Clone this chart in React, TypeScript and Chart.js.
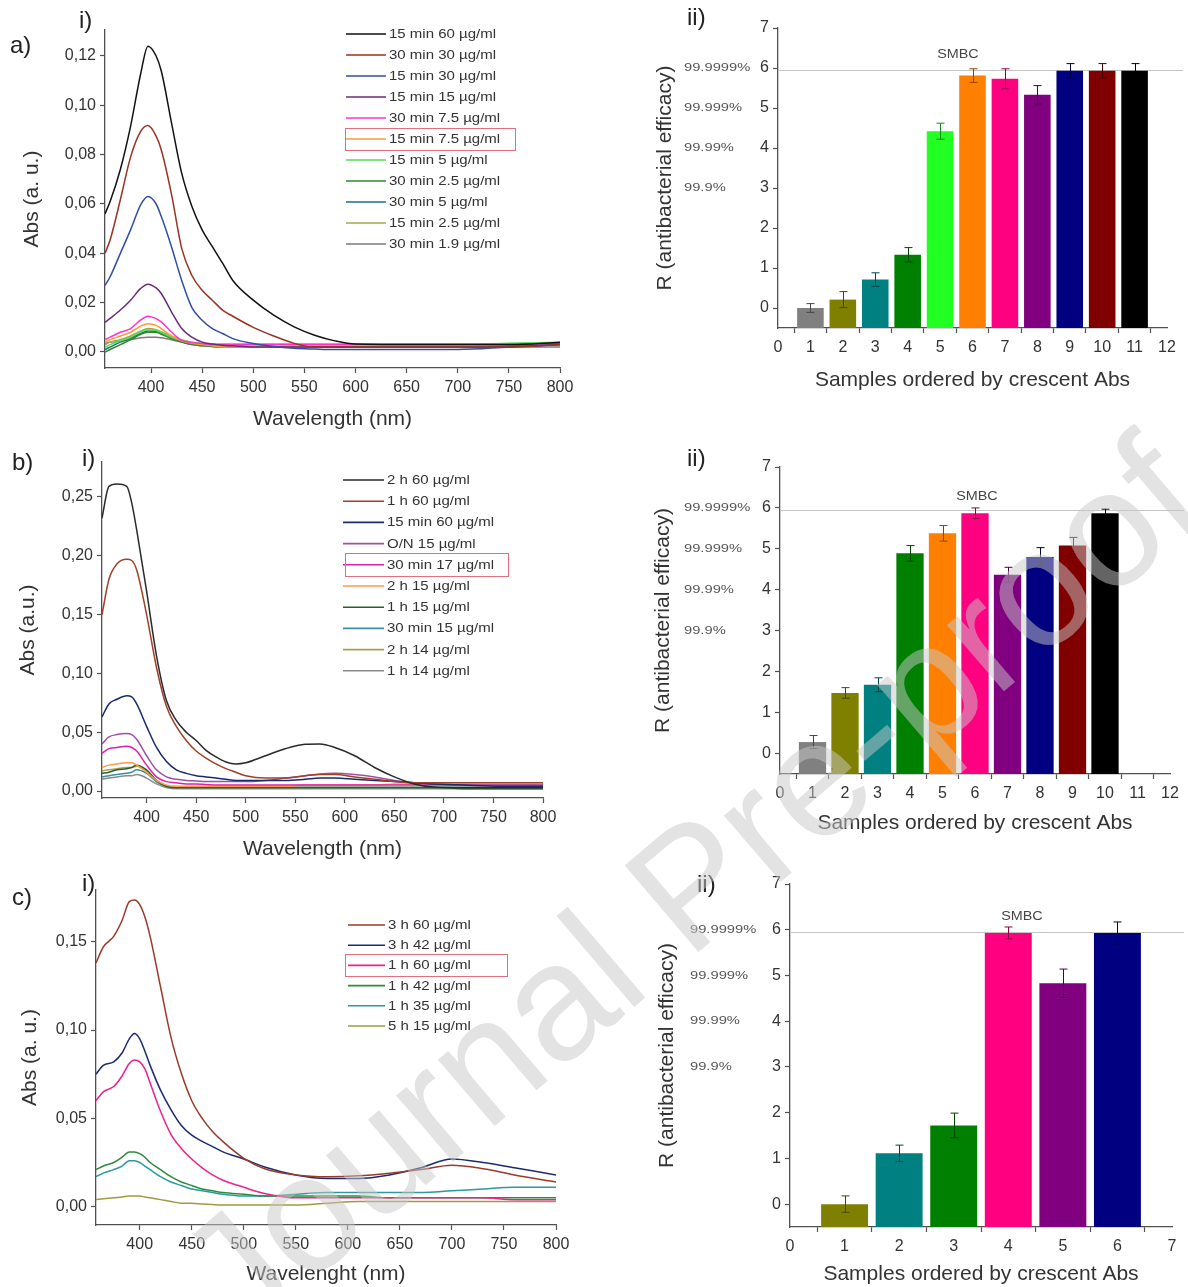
import React, { useEffect, useRef } from "react";
import { Chart, registerables } from "chart.js";

Chart.register(...registerables);

const FONT = '"Liberation Sans", Arial, Helvetica, sans-serif';
const INK = "#333333";
const AXIS = "#505050";
Chart.defaults.font.family = FONT;

/* ======================= a) i) spectra ======================= */
const WL_A = [355, 360, 370, 380, 390, 397, 405, 410, 420, 430, 440, 450, 460, 470, 480, 500, 520, 540, 560, 580, 600, 650, 700, 750, 800];
const A_LABELS = ["15 min 60 µg/ml", "30 min 30 µg/ml", "15 min 30 µg/ml", "15 min 15 µg/ml", "30 min 7.5 µg/ml", "15 min 7.5 µg/ml", "15 min 5 µg/ml", "30 min 2.5 µg/ml", "30 min 5 µg/ml", "15 min 2.5 µg/ml", "30 min 1.9 µg/ml"];
const A_COLORS = ["#111111", "#993322", "#2f4fa6", "#6a2c7a", "#ff33cc", "#ff9933", "#55dd55", "#2e8b2e", "#1e6e80", "#a6a64a", "#857575"];
const A_15MIN_60 = [0.056, 0.061, 0.074, 0.0915, 0.113, 0.124, 0.12, 0.114, 0.093, 0.0725, 0.059, 0.0495, 0.0427, 0.036, 0.029, 0.021, 0.0149, 0.0102, 0.0068, 0.0045, 0.0032, 0.003, 0.003, 0.003, 0.004];
const A_30MIN_30 = [0.04, 0.0454, 0.0617, 0.079, 0.0895, 0.0918, 0.0875, 0.082, 0.064, 0.042, 0.031, 0.025, 0.021, 0.017, 0.0145, 0.01, 0.0065, 0.0035, 0.002, 0.002, 0.002, 0.002, 0.002, 0.002, 0.003];
const A_15MIN_30 = [0.027, 0.0305, 0.04, 0.0495, 0.0597, 0.063, 0.06, 0.055, 0.0427, 0.029, 0.018, 0.0129, 0.0095, 0.0075, 0.0054, 0.0034, 0.0022, 0.0015, 0.0012, 0.001, 0.001, 0.001, 0.001, 0.002, 0.003];
const A_15MIN_15 = [0.012, 0.0136, 0.017, 0.021, 0.0258, 0.0275, 0.026, 0.0237, 0.0163, 0.0095, 0.006, 0.004, 0.0032, 0.0027, 0.0025, 0.002, 0.002, 0.002, 0.002, 0.002, 0.002, 0.002, 0.002, 0.002, 0.003];
const A_30MIN_7_5 = [0.005, 0.006, 0.008, 0.0095, 0.013, 0.0145, 0.0135, 0.0122, 0.0081, 0.0047, 0.0038, 0.0034, 0.003, 0.003, 0.003, 0.003, 0.003, 0.003, 0.003, 0.003, 0.003, 0.003, 0.003, 0.003, 0.003];
const A_15MIN_7_5 = [0.004, 0.005, 0.0065, 0.008, 0.0105, 0.0115, 0.0108, 0.0095, 0.0065, 0.0045, 0.0035, 0.003, 0.0025, 0.002, 0.002, 0.002, 0.002, 0.002, 0.002, 0.002, 0.002, 0.002, 0.002, 0.002, 0.003];
const A_15MIN_5 = [0.002, 0.003, 0.0045, 0.006, 0.0082, 0.009, 0.0088, 0.008, 0.006, 0.0048, 0.004, 0.0035, 0.003, 0.003, 0.003, 0.003, 0.003, 0.003, 0.003, 0.003, 0.003, 0.003, 0.003, 0.0035, 0.004];
const A_30MIN_2_5 = [0.0, 0.001, 0.003, 0.005, 0.0072, 0.008, 0.008, 0.0072, 0.0055, 0.004, 0.003, 0.0025, 0.0022, 0.002, 0.002, 0.002, 0.002, 0.002, 0.002, 0.002, 0.002, 0.002, 0.002, 0.0025, 0.003];
const A_30MIN_5 = [0.001, 0.002, 0.004, 0.0055, 0.0075, 0.0085, 0.0082, 0.0075, 0.0058, 0.0045, 0.0035, 0.003, 0.003, 0.003, 0.003, 0.003, 0.003, 0.003, 0.003, 0.003, 0.003, 0.003, 0.003, 0.0033, 0.0035];
const A_15MIN_2_5 = [0.003, 0.004, 0.005, 0.0065, 0.0085, 0.0095, 0.009, 0.0082, 0.0065, 0.005, 0.004, 0.0032, 0.003, 0.003, 0.003, 0.003, 0.003, 0.003, 0.003, 0.003, 0.003, 0.003, 0.003, 0.003, 0.003];
const A_30MIN_1_9 = [0.0035, 0.004, 0.0045, 0.005, 0.0058, 0.006, 0.006, 0.0058, 0.005, 0.004, 0.003, 0.0025, 0.0022, 0.002, 0.002, 0.002, 0.002, 0.002, 0.002, 0.002, 0.002, 0.002, 0.002, 0.002, 0.002];
const A_SERIES = [A_15MIN_60, A_30MIN_30, A_15MIN_30, A_15MIN_15, A_30MIN_7_5, A_15MIN_7_5, A_15MIN_5, A_30MIN_2_5, A_30MIN_5, A_15MIN_2_5, A_30MIN_1_9];
const A_Y_TICKS = [0, 0.02, 0.04, 0.06, 0.08, 0.1, 0.12];
const WL_TICKS = [400, 450, 500, 550, 600, 650, 700, 750, 800];

/* ======================= b) i) spectra ======================= */
const WL_B = [355, 362, 370, 380, 385, 390, 400, 410, 420, 430, 440, 450, 460, 470, 480, 490, 500, 520, 540, 560, 575, 590, 610, 630, 650, 670, 690, 720, 760, 800];
const B_LABELS = ["2 h 60 µg/ml", "1 h 60 µg/ml", "15 min 60 µg/ml", "O/N 15 µg/ml", "30 min 17 µg/ml", "2 h 15 µg/ml", "1 h 15 µg/ml", "30 min 15 µg/ml", "2 h 14 µg/ml", "1 h 14 µg/ml"];
const B_COLORS = ["#2a2a2a", "#a0402a", "#1a2a6a", "#a050a0", "#dd22aa", "#ff9944", "#2d5e2d", "#3a8fa0", "#a8a050", "#8a8a8a"];
const B_2H_60 = [0.232, 0.259, 0.261, 0.259, 0.245, 0.222, 0.17, 0.115, 0.077, 0.06, 0.05, 0.043, 0.0346, 0.029, 0.0247, 0.023, 0.024, 0.03, 0.036, 0.0397, 0.04, 0.037, 0.03, 0.02, 0.012, 0.006, 0.0034, 0.003, 0.003, 0.003];
const B_1H_60 = [0.15, 0.18, 0.193, 0.197, 0.196, 0.188, 0.15, 0.105, 0.072, 0.055, 0.043, 0.034, 0.028, 0.023, 0.019, 0.016, 0.013, 0.011, 0.011, 0.013, 0.014, 0.014, 0.012, 0.01, 0.008, 0.007, 0.007, 0.007, 0.007, 0.007];
const B_15MIN_60 = [0.063, 0.074, 0.078, 0.081, 0.08, 0.074, 0.055, 0.037, 0.025, 0.018, 0.015, 0.013, 0.012, 0.011, 0.01, 0.009, 0.009, 0.009, 0.009, 0.01, 0.011, 0.011, 0.01, 0.009, 0.008, 0.007, 0.006, 0.005, 0.004, 0.004];
const B_ON_15 = [0.04, 0.046, 0.048, 0.049, 0.048, 0.044, 0.03, 0.018, 0.012, 0.01, 0.009, 0.0085, 0.008, 0.008, 0.008, 0.008, 0.008, 0.009, 0.011, 0.013, 0.0145, 0.015, 0.014, 0.012, 0.009, 0.007, 0.006, 0.005, 0.005, 0.005];
const B_30MIN_17 = [0.032, 0.036, 0.037, 0.038, 0.037, 0.034, 0.022, 0.012, 0.008, 0.007, 0.006, 0.006, 0.0055, 0.005, 0.005, 0.005, 0.005, 0.005, 0.005, 0.005, 0.005, 0.005, 0.005, 0.005, 0.005, 0.005, 0.005, 0.005, 0.005, 0.005];
const B_2H_15 = [0.02, 0.022, 0.023, 0.024, 0.024, 0.022, 0.016, 0.009, 0.005, 0.004, 0.004, 0.004, 0.004, 0.004, 0.004, 0.004, 0.004, 0.004, 0.004, 0.005, 0.005, 0.005, 0.005, 0.005, 0.006, 0.006, 0.007, 0.007, 0.007, 0.007];
const B_1H_15 = [0.015, 0.016, 0.018, 0.019, 0.02, 0.022, 0.018, 0.009, 0.004, 0.003, 0.003, 0.003, 0.003, 0.003, 0.003, 0.003, 0.003, 0.003, 0.003, 0.003, 0.003, 0.003, 0.003, 0.003, 0.003, 0.003, 0.003, 0.002, 0.002, 0.002];
const B_30MIN_15 = [0.012, 0.013, 0.014, 0.015, 0.016, 0.018, 0.015, 0.008, 0.004, 0.003, 0.003, 0.003, 0.003, 0.003, 0.003, 0.003, 0.003, 0.003, 0.003, 0.003, 0.003, 0.003, 0.003, 0.003, 0.003, 0.003, 0.003, 0.003, 0.003, 0.003];
const B_2H_14 = [0.017, 0.018, 0.019, 0.02, 0.02, 0.021, 0.017, 0.008, 0.004, 0.003, 0.003, 0.003, 0.003, 0.003, 0.003, 0.003, 0.003, 0.003, 0.003, 0.003, 0.003, 0.003, 0.003, 0.003, 0.003, 0.003, 0.003, 0.003, 0.003, 0.003];
const B_1H_14 = [0.01, 0.011, 0.012, 0.013, 0.013, 0.014, 0.011, 0.006, 0.003, 0.002, 0.002, 0.002, 0.002, 0.002, 0.002, 0.002, 0.002, 0.002, 0.002, 0.002, 0.002, 0.002, 0.002, 0.002, 0.002, 0.002, 0.002, 0.002, 0.002, 0.002];
const B_SERIES = [B_2H_60, B_1H_60, B_15MIN_60, B_ON_15, B_30MIN_17, B_2H_15, B_1H_15, B_30MIN_15, B_2H_14, B_1H_14];
const B_Y_TICKS = [0, 0.05, 0.1, 0.15, 0.2, 0.25];

/* ======================= c) i) spectra ======================= */
const WL_C = [358, 365, 375, 383, 390, 395, 400, 405, 410, 420, 430, 440, 450, 460, 470, 480, 500, 520, 550, 580, 610, 640, 670, 700, 730, 760, 800];
const C_LABELS = ["3 h 60 µg/ml", "3 h 42 µg/ml", "1 h 60 µg/ml", "1 h 42 µg/ml", "1 h 35 µg/ml", "5 h 15 µg/ml"];
const C_COLORS = ["#9a3a2a", "#1e2a70", "#ee2288", "#2e8b3e", "#2a9a9a", "#a09a40"];
const C_3H_60 = [0.138, 0.147, 0.153, 0.162, 0.1727, 0.1736, 0.171, 0.164, 0.153, 0.1245, 0.096, 0.0755, 0.06, 0.05, 0.0425, 0.0368, 0.0274, 0.0215, 0.018, 0.017, 0.0175, 0.019, 0.021, 0.0235, 0.0215, 0.018, 0.014];
const C_3H_42 = [0.075, 0.08, 0.082, 0.087, 0.095, 0.098, 0.095, 0.088, 0.08, 0.066, 0.055, 0.046, 0.0405, 0.037, 0.034, 0.031, 0.027, 0.0225, 0.018, 0.016, 0.016, 0.018, 0.022, 0.027, 0.025, 0.022, 0.018];
const C_1H_60 = [0.06, 0.065, 0.068, 0.074, 0.081, 0.083, 0.082, 0.078, 0.07, 0.054, 0.041, 0.033, 0.027, 0.022, 0.018, 0.015, 0.011, 0.0075, 0.005, 0.005, 0.005, 0.005, 0.005, 0.005, 0.005, 0.004, 0.004];
const C_1H_42 = [0.021, 0.023, 0.025, 0.028, 0.031, 0.031, 0.03, 0.028, 0.025, 0.021, 0.017, 0.014, 0.012, 0.01, 0.009, 0.008, 0.007, 0.006, 0.006, 0.006, 0.006, 0.005, 0.005, 0.005, 0.005, 0.005, 0.005];
const C_1H_35 = [0.017, 0.019, 0.021, 0.023, 0.026, 0.026, 0.025, 0.023, 0.021, 0.017, 0.014, 0.012, 0.01, 0.009, 0.008, 0.007, 0.006, 0.006, 0.007, 0.008, 0.008, 0.008, 0.008, 0.009, 0.01, 0.011, 0.011];
const C_5H_15 = [0.004, 0.0045, 0.005, 0.0055, 0.006, 0.006, 0.006, 0.0055, 0.005, 0.004, 0.003, 0.002, 0.002, 0.0015, 0.0012, 0.001, 0.001, 0.001, 0.001, 0.002, 0.003, 0.003, 0.003, 0.003, 0.003, 0.003, 0.003];
const C_SERIES = [C_3H_60, C_3H_42, C_1H_60, C_1H_42, C_1H_35, C_5H_15];
const C_Y_TICKS = [0, 0.05, 0.1, 0.15];

/* ======================= ii) bar charts ======================= */
const A_BAR_X = [1, 2, 3, 4, 5, 6, 7, 8, 9, 10, 11];
const A_BAR_R = [0.0, 0.21, 0.71, 1.33, 4.42, 5.81, 5.73, 5.33, 5.93, 5.93, 5.93];
const A_BAR_ERR = [0.11, 0.2, 0.17, 0.18, 0.2, 0.17, 0.25, 0.23, 0.18, 0.18, 0.18];
const A_BAR_COLORS = ["#808080", "#808000", "#008080", "#008000", "#22ff22", "#ff8000", "#ff0080", "#800080", "#000080", "#800000", "#000000"];

const B_BAR_X = [1, 2, 3, 4, 5, 6, 7, 8, 9, 10];
const B_BAR_R = [0.28, 1.48, 1.68, 4.89, 5.38, 5.87, 4.37, 4.8, 5.08, 5.87];
const B_BAR_ERR = [0.16, 0.13, 0.17, 0.19, 0.19, 0.13, 0.18, 0.23, 0.2, 0.1];
const B_BAR_COLORS = ["#808080", "#808000", "#008080", "#008000", "#ff8000", "#ff0080", "#800080", "#000080", "#800000", "#000000"];

const C_BAR_X = [1, 2, 3, 4, 5, 6];
const C_BAR_R = [0.0, 1.11, 1.72, 5.93, 4.83, 5.93];
const C_BAR_ERR = [0.18, 0.18, 0.27, 0.13, 0.31, 0.24];
const C_BAR_COLORS = ["#808000", "#008080", "#008000", "#ff0080", "#800080", "#000080"];

const BAR_Y_TICKS = [0, 1, 2, 3, 4, 5, 6, 7];
const AB_BAR_X_TICKS = [0, 1, 2, 3, 4, 5, 6, 7, 8, 9, 10, 11, 12];
const C_BAR_X_TICKS = [0, 1, 2, 3, 4, 5, 6, 7];
const PCT_LABELS = ["99.9999%", "99.999%", "99.99%", "99.9%"];
const PCT_VALUES = [6, 5, 4, 3];
const SMBC_R = 5.95;

/* ======================= layout ======================= */
type Rect = { L: number; T: number; W: number; H: number };
type Area = { l: number; t: number; r: number; b: number };

const TITLE_SIZE = 21;
const TICK_SIZE = 16;

function fmtComma(v: number) {
  return v.toFixed(2).replace(".", ",");
}
function fmtInt(v: number) {
  return String(Math.round(v));
}

function buildScales(rect: Rect, area: Area, o: any) {
  const lh = TITLE_SIZE * 1.2;
  const ySize = area.l - rect.L;
  const xSize = rect.T + rect.H - area.b;
  const gridCfg = { display: true, drawOnChartArea: false, drawTicks: true, tickLength: 5, tickColor: AXIS, tickWidth: 1.2 };
  const borderCfg = { display: true, color: AXIS, width: 1.3 };
  return {
    x: {
      type: "linear",
      position: "bottom",
      min: o.xMin,
      max: o.xMax,
      offset: false,
      grid: gridCfg,
      border: borderCfg,
      ticks: { autoSkip: false, maxRotation: 0, minRotation: 0, padding: 5, color: INK, font: { family: FONT, size: TICK_SIZE }, callback: (v: any) => o.xFmt(Number(v)) },
      title: { display: true, text: o.xTitle, color: INK, font: { family: FONT, size: TITLE_SIZE }, padding: { top: 0, bottom: Math.max(0, rect.T + rect.H - o.xTitleY - lh / 2) } },
      afterBuildTicks: (s: any) => {
        s.ticks = o.xTicks.map((v: number) => ({ value: v }));
      },
      afterFit: (s: any) => {
        s.height = xSize;
        s.paddingLeft = 0;
        s.paddingRight = 0;
        s.paddingTop = 0;
        s.paddingBottom = 0;
      },
    },
    y: {
      type: "linear",
      position: "left",
      min: o.yMin,
      max: o.yMax,
      offset: false,
      grid: gridCfg,
      border: borderCfg,
      ticks: { autoSkip: false, padding: 4, color: INK, font: { family: FONT, size: TICK_SIZE }, callback: (v: any) => o.yFmt(Number(v)) },
      title: { display: true, text: o.yTitle, color: INK, font: { family: FONT, size: TITLE_SIZE }, padding: { top: Math.max(0, o.yTitleX - rect.L - lh / 2), bottom: 0 } },
      afterBuildTicks: (s: any) => {
        s.ticks = o.yTicks.map((v: number) => ({ value: v }));
      },
      afterFit: (s: any) => {
        s.width = ySize;
        s.paddingLeft = 0;
        s.paddingRight = 0;
        s.paddingTop = 0;
        s.paddingBottom = 0;
      },
    },
  };
}

function layoutPadding(rect: Rect, area: Area) {
  return { left: 0, top: area.t - rect.T, right: rect.L + rect.W - area.r, bottom: 0 };
}

type Legend = { x0: number; x1: number; tx: number; y0: number; dy: number; font: number; sx: number; boxIdx: number; bx0: number; bx1: number; bh: number };

function legendPlugin(rect: Rect, lg: Legend, labels: string[], colors: string[]) {
  return {
    id: "spectraLegend",
    afterDraw(chart: any) {
      const ctx = chart.ctx;
      ctx.save();
      ctx.font = `${lg.font}px ${FONT}`;
      ctx.textBaseline = "middle";
      ctx.textAlign = "left";
      labels.forEach((lab, i) => {
        const y = lg.y0 + i * lg.dy - rect.T;
        ctx.strokeStyle = colors[i];
        ctx.lineWidth = 1.6;
        ctx.beginPath();
        ctx.moveTo(lg.x0 - rect.L, y);
        ctx.lineTo(lg.x1 - rect.L, y);
        ctx.stroke();
        ctx.fillStyle = INK;
        ctx.save();
        ctx.translate(lg.tx - rect.L, y + 0.5);
        ctx.scale(lg.sx, 1);
        ctx.fillText(lab, 0, 0);
        ctx.restore();
      });
      const by = lg.y0 + lg.boxIdx * lg.dy - rect.T;
      ctx.strokeStyle = "#e07080";
      ctx.lineWidth = 1;
      ctx.strokeRect(lg.bx0 - rect.L + 0.5, Math.round(by - lg.bh / 2) + 0.5, lg.bx1 - lg.bx0, lg.bh);
      ctx.restore();
    },
  };
}

function darken(hex: string) {
  const n = parseInt(hex.slice(1), 16);
  const r = Math.round(((n >> 16) & 255) * 0.55);
  const g = Math.round(((n >> 8) & 255) * 0.55);
  const b = Math.round((n & 255) * 0.55);
  return `rgb(${r},${g},${b})`;
}

type BarExtra = { values: number[]; errs: number[]; colors: string[]; smbcX: number; smbcY: number; pctX: number; lineExt: number };

function barPlugin(rect: Rect, p: BarExtra) {
  return {
    id: "barExtras",
    beforeDatasetsDraw(chart: any) {
      const ctx = chart.ctx;
      const ys = chart.scales.y;
      const yl = Math.round(ys.getPixelForValue(SMBC_R)) + 0.5;
      ctx.save();
      ctx.strokeStyle = "#c4c4c4";
      ctx.lineWidth = 1;
      ctx.beginPath();
      ctx.moveTo(chart.chartArea.left, yl);
      ctx.lineTo(chart.chartArea.right + p.lineExt, yl);
      ctx.stroke();
      ctx.restore();
    },
    afterDatasetsDraw(chart: any) {
      const ctx = chart.ctx;
      const xs = chart.scales.x;
      const ys = chart.scales.y;
      const meta = chart.getDatasetMeta(0);
      ctx.save();
      meta.data.forEach((bar: any, i: number) => {
        const x = Math.round(bar.x) + 0.5;
        const v = p.values[i];
        const e = p.errs[i];
        const yTop = ys.getPixelForValue(v + e);
        const yBot = ys.getPixelForValue(v - e);
        ctx.strokeStyle = darken(p.colors[i]);
        ctx.lineWidth = 1;
        ctx.beginPath();
        ctx.moveTo(x, yBot);
        ctx.lineTo(x, yTop);
        ctx.moveTo(x - 4, yTop);
        ctx.lineTo(x + 4, yTop);
        ctx.moveTo(x - 4, yBot);
        ctx.lineTo(x + 4, yBot);
        ctx.stroke();
      });
      ctx.fillStyle = "#444";
      ctx.textBaseline = "middle";
      ctx.textAlign = "center";
      ctx.save();
      ctx.translate(xs.getPixelForValue(p.smbcX), ys.getPixelForValue(p.smbcY));
      ctx.scale(1.15, 1);
      ctx.font = `12.5px ${FONT}`;
      ctx.fillText("SMBC", 0, 0);
      ctx.restore();
      ctx.textAlign = "left";
      ctx.fillStyle = "#555";
      PCT_LABELS.forEach((lab, i) => {
        ctx.save();
        ctx.translate(p.pctX - rect.L, ys.getPixelForValue(PCT_VALUES[i]));
        ctx.scale(1.28, 1);
        ctx.font = `11.5px ${FONT}`;
        ctx.fillText(lab, 0, 0);
        ctx.restore();
      });
      ctx.restore();
    },
  };
}

function spectraConfig(rect: Rect, area: Area, wl: number[], series: number[][], colors: string[], labels: string[], o: any, lg: Legend) {
  return {
    type: "line",
    data: {
      datasets: series.map((vals, k) => ({
        label: labels[k],
        data: wl.map((x, i) => ({ x, y: vals[i] })),
        borderColor: colors[k],
        backgroundColor: colors[k],
        borderWidth: 1.5,
        pointRadius: 0,
        fill: false,
        cubicInterpolationMode: "monotone",
      })),
    },
    options: {
      responsive: false,
      animation: false,
      devicePixelRatio: 1,
      layout: { padding: layoutPadding(rect, area) },
      plugins: { legend: { display: false }, tooltip: { enabled: false } },
      scales: buildScales(rect, area, o),
    },
    plugins: [legendPlugin(rect, lg, labels, colors)],
  };
}

function barConfig(rect: Rect, area: Area, xs: number[], vals: number[], errs: number[], colors: string[], o: any, extra: any) {
  return {
    type: "bar",
    data: {
      datasets: [
        {
          data: xs.map((x, i) => ({ x, y: vals[i] })),
          backgroundColor: colors,
          borderWidth: 0,
          base: -0.5,
          categoryPercentage: o.cat,
          barPercentage: 1,
        },
      ],
    },
    options: {
      responsive: false,
      animation: false,
      devicePixelRatio: 1,
      layout: { padding: layoutPadding(rect, area) },
      plugins: { legend: { display: false }, tooltip: { enabled: false } },
      scales: buildScales(rect, area, o),
    },
    plugins: [barPlugin(rect, { values: vals, errs, colors, ...extra })],
  };
}

/* ---------- panel geometry ---------- */
const A_RECT: Rect = { L: 0, T: 0, W: 600, H: 432 };
const A_AREA: Area = { l: 105, t: 30, r: 560, b: 368 };
const B_RECT: Rect = { L: 0, T: 440, W: 600, H: 422 };
const B_AREA: Area = { l: 102, t: 462, r: 543, b: 798 };
const C_RECT: Rect = { L: 0, T: 870, W: 600, H: 417 };
const C_AREA: Area = { l: 96, t: 890, r: 556, b: 1225 };
const AII_RECT: Rect = { L: 640, T: 0, W: 548, H: 400 };
const AII_AREA: Area = { l: 778, t: 28, r: 1167, b: 328 };
const BII_RECT: Rect = { L: 640, T: 440, W: 548, H: 400 };
const BII_AREA: Area = { l: 780, t: 467, r: 1170, b: 774 };
const CII_RECT: Rect = { L: 640, T: 870, W: 548, H: 417 };
const CII_AREA: Area = { l: 790, t: 884, r: 1172, b: 1227 };

const BAR_Y_TITLE = "R (antibacterial efficacy)";
const BAR_X_TITLE = "Samples ordered by crescent Abs";

const CHARTS: { rect: Rect; make: () => any }[] = [
  {
    rect: A_RECT,
    make: () =>
      spectraConfig(A_RECT, A_AREA, WL_A, A_SERIES, A_COLORS, A_LABELS,
        { xMin: 355, xMax: 800, yMin: -0.00649, yMax: 0.13054, xTicks: WL_TICKS, yTicks: A_Y_TICKS, xFmt: fmtInt, yFmt: fmtComma, xTitle: "Wavelength (nm)", yTitle: "Abs (a. u.)", xTitleY: 420, yTitleX: 32 },
        { x0: 346, x1: 386, tx: 389, y0: 34, dy: 21, font: 12.5, sx: 1.2, boxIdx: 5, bx0: 345, bx1: 515, bh: 22 }),
  },
  {
    rect: B_RECT,
    make: () =>
      spectraConfig(B_RECT, B_AREA, WL_B, B_SERIES, B_COLORS, B_LABELS,
        { xMin: 355, xMax: 800, yMin: -0.00595, yMax: 0.27976, xTicks: WL_TICKS, yTicks: B_Y_TICKS, xFmt: fmtInt, yFmt: fmtComma, xTitle: "Wavelength (nm)", yTitle: "Abs (a.u.)", xTitleY: 850, yTitleX: 28 },
        { x0: 343, x1: 384, tx: 387, y0: 480, dy: 21.2, font: 12.5, sx: 1.2, boxIdx: 4, bx0: 345, bx1: 508, bh: 23 }),
  },
  {
    rect: C_RECT,
    make: () =>
      spectraConfig(C_RECT, C_AREA, WL_C, C_SERIES, C_COLORS, C_LABELS,
        { xMin: 358, xMax: 800, yMin: -0.01036, yMax: 0.17926, xTicks: WL_TICKS, yTicks: C_Y_TICKS, xFmt: fmtInt, yFmt: fmtComma, xTitle: "Wavelenght (nm)", yTitle: "Abs (a. u.)", xTitleY: 1275, yTitleX: 30 },
        { x0: 348, x1: 385, tx: 388, y0: 925, dy: 20.2, font: 12.5, sx: 1.2, boxIdx: 2, bx0: 345, bx1: 507, bh: 22 }),
  },
  {
    rect: AII_RECT,
    make: () =>
      barConfig(AII_RECT, AII_AREA, A_BAR_X, A_BAR_R, A_BAR_ERR, A_BAR_COLORS,
        { xMin: 0, xMax: 12, yMin: -0.5, yMax: 7, xTicks: AB_BAR_X_TICKS, yTicks: BAR_Y_TICKS, xFmt: fmtInt, yFmt: fmtInt, xTitle: BAR_X_TITLE, yTitle: BAR_Y_TITLE, xTitleY: 380, yTitleX: 665, cat: 0.82 },
        { smbcX: 5.55, smbcY: 6.33, pctX: 684, lineExt: 16 }),
  },
  {
    rect: BII_RECT,
    make: () =>
      barConfig(BII_RECT, BII_AREA, B_BAR_X, B_BAR_R, B_BAR_ERR, B_BAR_COLORS,
        { xMin: 0, xMax: 12, yMin: -0.5, yMax: 7, xTicks: AB_BAR_X_TICKS, yTicks: BAR_Y_TICKS, xFmt: fmtInt, yFmt: fmtInt, xTitle: BAR_X_TITLE, yTitle: BAR_Y_TITLE, xTitleY: 823, yTitleX: 663, cat: 0.84 },
        { smbcX: 6.06, smbcY: 6.29, pctX: 684, lineExt: 14 }),
  },
  {
    rect: CII_RECT,
    make: () =>
      barConfig(CII_RECT, CII_AREA, C_BAR_X, C_BAR_R, C_BAR_ERR, C_BAR_COLORS,
        { xMin: 0, xMax: 7, yMin: -0.5, yMax: 7, xTicks: C_BAR_X_TICKS, yTicks: BAR_Y_TICKS, xFmt: fmtInt, yFmt: fmtInt, xTitle: BAR_X_TITLE, yTitle: BAR_Y_TITLE, xTitleY: 1277, yTitleX: 667, cat: 0.86 },
        { smbcX: 4.25, smbcY: 6.28, pctX: 690, lineExt: 12 }),
  },
];

const PANEL_TAGS = [
  { text: "a)", x: 10, y: 33 },
  { text: "i)", x: 79, y: 8 },
  { text: "ii)", x: 687, y: 5 },
  { text: "b)", x: 12, y: 450 },
  { text: "i)", x: 82, y: 446 },
  { text: "ii)", x: 687, y: 446 },
  { text: "c)", x: 12, y: 885 },
  { text: "i)", x: 82, y: 871 },
  { text: "ii)", x: 697, y: 872 },
];

function ChartCanvas({ rect, make }: { rect: Rect; make: () => any }) {
  const ref = useRef<HTMLCanvasElement>(null);
  useEffect(() => {
    const chart = new Chart(ref.current as HTMLCanvasElement, make());
    return () => chart.destroy();
  }, []);
  return (
    <canvas
      ref={ref}
      width={rect.W}
      height={rect.H}
      style={{ position: "absolute", left: rect.L, top: rect.T, width: rect.W, height: rect.H }}
    />
  );
}

export default function App() {
  return (
    <div style={{ position: "absolute", left: 0, top: 0, width: 1188, height: 1287, background: "#ffffff", overflow: "hidden" }}>
      {CHARTS.map((c, i) => (
        <ChartCanvas key={i} rect={c.rect} make={c.make} />
      ))}
      {PANEL_TAGS.map((t, i) => (
        <div
          key={"tag" + i}
          style={{ position: "absolute", left: t.x, top: t.y, fontFamily: FONT, fontSize: 24, lineHeight: "24px", color: "#222" }}
        >
          {t.text}
        </div>
      ))}
      <div
        style={{
          position: "absolute",
          left: 690,
          top: 885,
          transform: "translate(-50%, -50%) rotate(-40.5deg)",
          fontFamily: FONT,
          fontSize: 165,
          lineHeight: 1,
          color: "rgba(200,200,200,0.5)",
          whiteSpace: "nowrap",
          pointerEvents: "none",
        }}
      >
        Journal Pre-proof
      </div>
    </div>
  );
}
